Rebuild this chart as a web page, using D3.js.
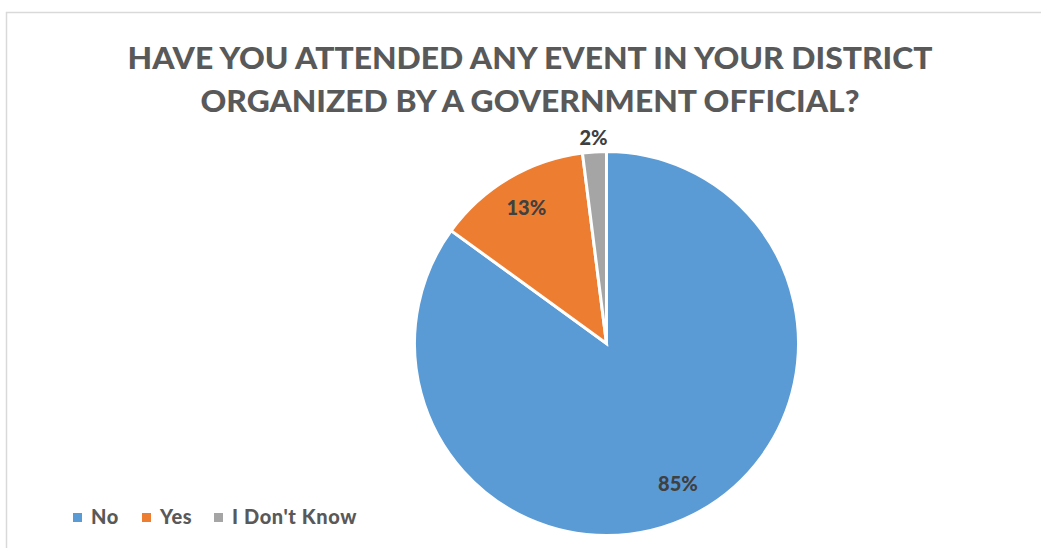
<!DOCTYPE html>
<html>
<head>
<meta charset="utf-8">
<script src="https://cdn.jsdelivr.net/npm/d3@7"></script>
<style>
  html, body { margin: 0; padding: 0; background: #fff; }
  svg { display: block; }
</style>
</head>
<body>
<svg id="chart" width="1041" height="548"></svg>
<script>
// Survey answers, in percent
const categories = ["No", "Yes", "I Don't Know"];
const values = [85, 13, 2];
const colors = ["#5B9BD5", "#ED7D31", "#A5A5A5"];
const titleLines = [
  "HAVE YOU ATTENDED ANY EVENT IN YOUR DISTRICT",
  "ORGANIZED BY A GOVERNMENT OFFICIAL?"
];

const svg = d3.select("#chart");
const W = 1041, H = 548;
const font = "Lato, 'Open Sans', sans-serif";

// chart area frame
svg.append("rect")
  .attr("x", 6.5).attr("y", 12.5)
  .attr("width", W + 10).attr("height", H + 10)
  .attr("fill", "#fff")
  .attr("stroke", "#d9d9d9")
  .attr("stroke-width", 1.5);

// title
const titleWidths = [805, 659];
const title = svg.append("g")
  .attr("font-family", font)
  .attr("font-weight", 900)
  .attr("font-size", 31)
  .attr("fill", "#595959")
  .attr("text-anchor", "middle");
title.selectAll("text")
  .data(titleLines)
  .join("text")
  .attr("x", 530)
  .attr("y", (d, i) => 69 + i * 43)
  .attr("textLength", (d, i) => titleWidths[i])
  .attr("lengthAdjust", "spacingAndGlyphs")
  .text(d => d);

// pie
const cx = 606.5, cy = 343.5, r = 192;
const data = categories.map((c, i) => ({ category: c, value: values[i], color: colors[i] }));
const pie = d3.pie().value(d => d.value).sort(null);
const arcs = pie(data);
const arc = d3.arc().innerRadius(0).outerRadius(r);
const labelArc = d3.arc().innerRadius(r * 0.82).outerRadius(r * 0.82);
const outerLabelArc = d3.arc().innerRadius(r + 14).outerRadius(r + 14);

const g = svg.append("g").attr("transform", `translate(${cx},${cy})`);
g.selectAll("path")
  .data(arcs)
  .join("path")
  .attr("d", arc)
  .attr("fill", d => d.data.color)
  .attr("stroke", "#fff")
  .attr("stroke-width", 3)
  .attr("stroke-linejoin", "miter");

g.selectAll("text.label")
  .data(arcs)
  .join("text")
  .attr("class", "label")
  .attr("transform", d => {
    const p = (d.data.value < 5 ? outerLabelArc : labelArc).centroid(d);
    return `translate(${p[0]},${p[1]})`;
  })
  .attr("text-anchor", "middle")
  .attr("dy", "0.36em")
  .attr("font-family", font)
  .attr("font-weight", 900)
  .attr("font-size", 20)
  .attr("fill", "#404040")
  .text(d => d.data.value + "%");

// legend
const legendX = [73, 142, 214];
const legend = svg.append("g")
  .attr("font-family", font)
  .attr("font-weight", 900)
  .attr("font-size", 20)
  .attr("fill", "#595959");
const items = legend.selectAll("g")
  .data(data)
  .join("g")
  .attr("transform", (d, i) => `translate(${legendX[i]},513)`);
items.append("rect")
  .attr("width", 9).attr("height", 9)
  .attr("fill", d => d.color);
items.append("text")
  .attr("x", 18).attr("y", 11)
  .attr("letter-spacing", 0.6)
  .text(d => d.category);
</script>
</body>
</html>
